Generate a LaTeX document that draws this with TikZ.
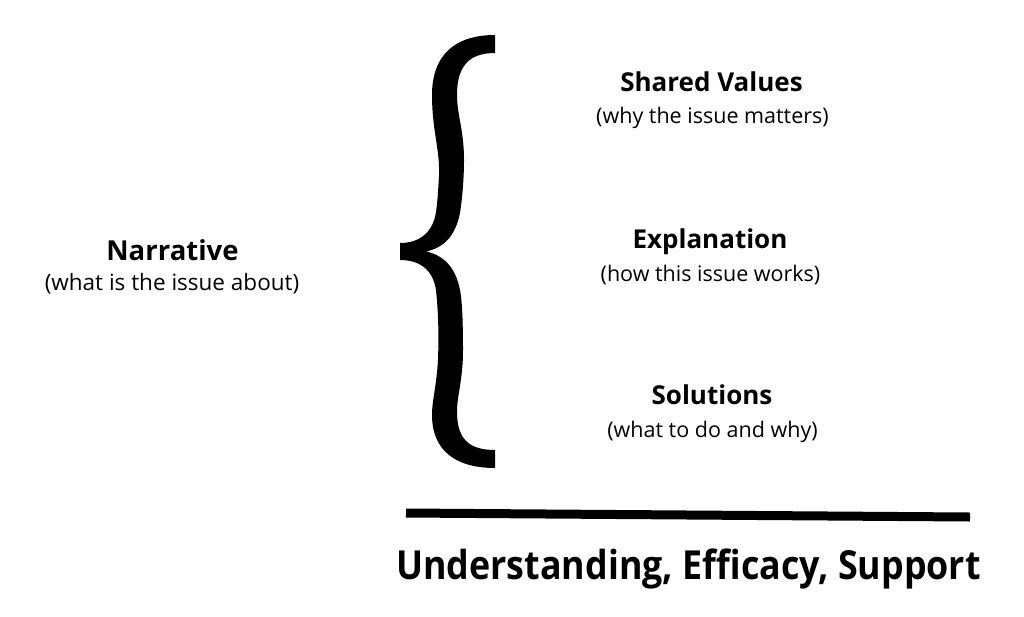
\documentclass[tikz,border=0pt]{standalone}
\usepackage{fontspec}
\setmainfont{Open Sans}
\begin{document}
\begin{tikzpicture}[x=1pt,y=-1pt,
  head/.style={font=\bfseries\fontsize{26}{30}\selectfont, anchor=base, inner sep=0pt},
  sub/.style={font=\fontsize{21.5}{26}\selectfont, anchor=base, inner sep=0pt},
  lhead/.style={font=\bfseries\fontsize{27.5}{32}\selectfont, anchor=base, inner sep=0pt},
  lsub/.style={font=\fontsize{22.5}{27}\selectfont, anchor=base, inner sep=0pt},
  big/.style={font=\bfseries\fontsize{40}{46}\selectfont, anchor=base, inner sep=0pt}]
\useasboundingbox[fill=white] (0,0) rectangle (1024,616);
% brace
\fill[black] (495,35) .. controls (455,35) and (432,55) .. (432,95)
  .. controls (432,130) and (440,150) .. (439,175)
  .. controls (438,195) and (437,205) .. (436,212)
  .. controls (433,232) and (420,243) .. (400,243)
  -- (400,260)
  .. controls (420,260) and (433,270) .. (436,290)
  .. controls (438,310) and (439,330) .. (438,360)
  .. controls (436,390) and (432,400) .. (432,415)
  .. controls (432,450) and (455,468) .. (495,468)
  -- (495,450)
  .. controls (470,450) and (457,440) .. (457,412)
  .. controls (457,395) and (463,380) .. (463,350)
  .. controls (463,320) and (462,300) .. (460,290)
  .. controls (455,265) and (442,255) .. (426,251.5)
  .. controls (442,248) and (455,238) .. (460,213)
  .. controls (462,200) and (464,180) .. (464,160)
  .. controls (464,130) and (457,115) .. (457,95)
  .. controls (457,65) and (470,53) .. (495,53) -- cycle;
\node[head] (sv) at (711.5,91) {Shared Values};
\node[sub] (svs) at (712.5,123) {(why the issue matters)};
\node[head] (ex) at (710,248) {Explanation};
\node[sub] (exs) at (710.5,281.5) {(how this issue works)};
\node[head] (so) at (712,404) {Solutions};
\node[sub] (sos) at (712.5,437.5) {(what to do and why)};
\node[lhead] (na) at (172.5,260) {Narrative};
\node[lsub] (nas) at (172,290) {(what is the issue about)};
\coordinate (l1) at (406,513);
\coordinate (l2) at (970,517);
\draw[line width=9pt] (l1) -- (l2);
\node[big] (ues) at (688.5,579) {\scalebox{0.895}[1]{Understanding, Efficacy, Support}};
\end{tikzpicture}
\end{document}
